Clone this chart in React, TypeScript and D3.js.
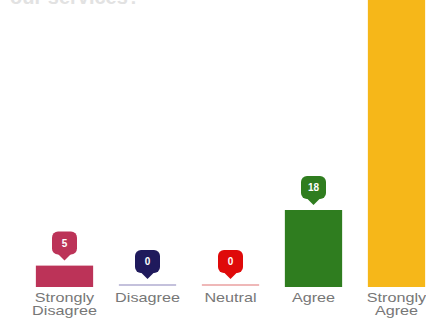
import React from "react";
import * as d3 from "d3";

const categories = ["Strongly\nDisagree", "Disagree", "Neutral", "Agree", "Strongly\nAgree"];
const values = [5, 0, 0, 18, 80];
const colors = ["#bc3358", "#1f1a5c", "#df0a0a", "#2f7d1f", "#f6b719"];
const zeroColors = ["#e7b3c1", "#c4c1dc", "#efb8b8", "#b6d6ad", "#fbe2a6"];
const titleText = "our services?";

export default function App() {
  const W = 426, H = 323;
  const x = d3.scaleBand<number>().domain(d3.range(categories.length)).range([23, 438]).paddingInner(0.31).paddingOuter(0.155);
  const y = d3.scaleLinear().domain([0, 18]).range([287, 210]);
  const bw = x.bandwidth();
  return (
    <svg width={W} height={H} style={{ position: "absolute", left: 0, top: 0, fontFamily: "Liberation Sans, Arial, sans-serif" }}>
      <rect width={W} height={H} fill="#fff" />
      <text x={10} y={4} fontSize={20} fontWeight="bold" fill="#e2e2e2">{titleText}</text>
      {values.map((v, i) => {
        const x0 = x(i)!;
        const cx = x0 + bw / 2;
        const top = v === 0 ? y(0) - 3 : y(v);
        const h = v === 0 ? 2 : y(0) - y(v);
        const tip = top - 5;
        const bh = 23, bwid = 25;
        const bTop = tip - 6 - bh;
        const lines = categories[i].split("\n");
        return (
          <g key={i}>
            <rect x={x0} y={top} width={bw} height={h} fill={v === 0 ? zeroColors[i] : colors[i]} />
            <rect x={cx - bwid / 2} y={bTop} width={bwid} height={bh} rx={6} fill={colors[i]} />
            <path d={`M${cx - 7},${bTop + bh - 1} L${cx},${tip} L${cx + 7},${bTop + bh - 1} Z`} fill={colors[i]} />
            <text x={cx} y={bTop + bh / 2 + 3.5} textAnchor="middle" fontSize={10} fontWeight="bold" fill="#fff">{v}</text>
            {lines.map((l, j) => (
              <text key={j} transform={`translate(${cx},${302 + j * 13}) scale(1.35,1)`} textAnchor="middle" fontSize={12} fill="#777">{l}</text>
            ))}
          </g>
        );
      })}
    </svg>
  );
}
